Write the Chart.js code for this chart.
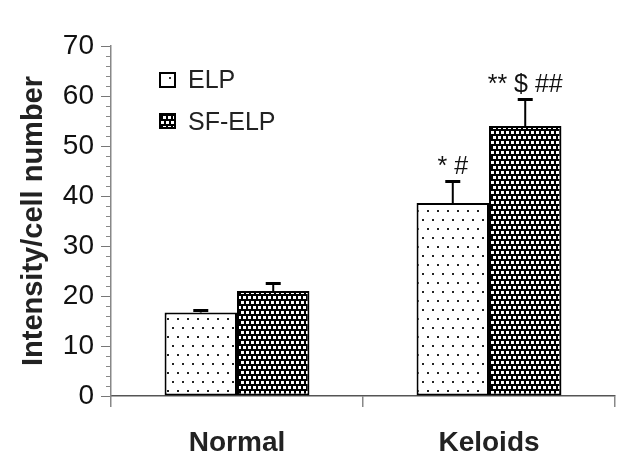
<!DOCTYPE html>
<html><head><meta charset="utf-8">
<script src="https://cdn.jsdelivr.net/npm/chart.js@4"></script>
<style>html,body{margin:0;padding:0;background:#fff}#wrap{width:630px;height:467px}</style>
</head><body><div id="wrap"><canvas id="c" width="630" height="467"></canvas></div>
<script>
const categories = ['Normal', 'Keloids'];
const seriesNames = ['ELP', 'SF-ELP'];
const elpValues = [16.7, 38.6];
const elpErrors = [0.4, 4.3];
const sfElpValues = [21.0, 54.0];
const sfElpErrors = [1.5, 5.3];
const elpMarks = ['', '* #'];
const sfElpMarks = ['', '** $ ##'];
const yTicks = [0, 10, 20, 30, 40, 50, 60, 70];
const yTitle = 'Intensity/cell number';

const FONT = "'Liberation Sans', Arial, sans-serif";

function makePattern(w, h, bg, fg, rects) {
  const t = document.createElement('canvas');
  t.width = w; t.height = h;
  const g = t.getContext('2d');
  g.fillStyle = bg; g.fillRect(0, 0, w, h);
  g.fillStyle = fg;
  rects.forEach(r => g.fillRect(r[0], r[1], r[2], r[3]));
  return document.createElement('canvas').getContext('2d').createPattern(t, 'repeat');
}
const elpPattern = makePattern(10, 18, '#ffffff', '#222222', [[2, 3, 2, 2], [7, 12, 2, 2]]);
const sfPattern = makePattern(10, 10, '#000000', '#ffffff', [[1, 1, 3, 3], [6, 1, 3, 3], [3, 6, 3, 3], [8, 6, 2, 3], [0, 6, 1, 3]]);

const errorPlugin = {
  id: 'errbars',
  afterDatasetsDraw(chart) {
    const ctx = chart.ctx;
    const ys = chart.scales.y;
    const errs = [elpErrors, sfElpErrors];
    const marks = [elpMarks, sfElpMarks];
    chart.data.datasets.forEach((ds, di) => {
      const meta = chart.getDatasetMeta(di);
      meta.data.forEach((bar, i) => {
        const top = ys.getPixelForValue(ds.data[i] + errs[di][i]);
        ctx.save();
        ctx.strokeStyle = '#000';
        ctx.lineWidth = 2;
        ctx.beginPath();
        ctx.moveTo(bar.x, bar.y); ctx.lineTo(bar.x, top); ctx.stroke();
        ctx.lineWidth = 3;
        ctx.beginPath();
        ctx.moveTo(bar.x - 7.5, top); ctx.lineTo(bar.x + 7.5, top); ctx.stroke();
        if (marks[di][i]) {
          ctx.fillStyle = '#111';
          ctx.font = '25px ' + FONT;
          ctx.textAlign = 'center';
          ctx.textBaseline = 'alphabetic';
          ctx.fillText(marks[di][i], bar.x, top - 8);
        }
        ctx.restore();
      });
    });
  }
};

const minorTickPlugin = {
  id: 'minorTicks',
  afterDraw(chart) {
    const ctx = chart.ctx;
    const ys = chart.scales.y;
    const x = chart.chartArea.left;
    ctx.save();
    ctx.strokeStyle = '#888';
    ctx.lineWidth = 1;
    for (let v = yTicks[0]; v <= yTicks[yTicks.length - 1]; v += 2) {
      if (yTicks.includes(v)) continue;
      const y = Math.round(ys.getPixelForValue(v)) + 0.5;
      ctx.beginPath(); ctx.moveTo(x - 5, y); ctx.lineTo(x, y); ctx.stroke();
    }
    ctx.restore();
  }
};

const legendPlugin = {
  id: 'customLegend',
  afterDraw(chart) {
    const ctx = chart.ctx;
    const a = chart.chartArea;
    const bx = a.left + 49, tx = a.left + 77;
    const items = [[elpPattern, a.top + 27, a.top + 42], [sfPattern, a.top + 68, a.top + 84]];
    ctx.save();
    items.forEach((it, i) => {
      const by = it[1];
      ctx.fillStyle = '#fff';
      ctx.fillRect(bx, by, 15, 14);
      if (i === 0) { ctx.fillStyle = '#333'; ctx.fillRect(bx + 9, by + 4, 2, 2); }
      else { ctx.fillStyle = it[0]; ctx.fillRect(bx, by, 15, 14); }
      ctx.strokeStyle = '#000'; ctx.lineWidth = 2;
      ctx.strokeRect(bx, by, 15, 14);
      ctx.fillStyle = '#222';
      ctx.font = '25px ' + FONT;
      ctx.textAlign = 'left';
      ctx.textBaseline = 'alphabetic';
      ctx.fillText(seriesNames[i], tx, it[2]);
    });
    ctx.restore();
  }
};

new Chart(document.getElementById('c'), {
  type: 'bar',
  data: {
    labels: categories,
    datasets: [
      { label: seriesNames[0], data: elpValues, backgroundColor: elpPattern, borderColor: '#000', borderWidth: 2, borderSkipped: false, categoryPercentage: 0.575, barPercentage: 1.0 },
      { label: seriesNames[1], data: sfElpValues, backgroundColor: sfPattern, borderColor: '#000', borderWidth: 2, borderSkipped: false, categoryPercentage: 0.575, barPercentage: 1.0 }
    ]
  },
  options: {
    responsive: false,
    animation: false,
    devicePixelRatio: 1,
    layout: { padding: { top: 46, right: 15, left: 0, bottom: 0 } },
    plugins: { legend: { display: false }, tooltip: { enabled: false } },
    scales: {
      x: {
        offset: true,
        grid: { offset: true, drawOnChartArea: false, drawTicks: true, tickLength: 11, color: '#888', lineWidth: 1.5 },
        border: { color: '#555', width: 1.5 },
        ticks: { font: { family: FONT, size: 28, weight: 'bold' }, color: '#222', padding: 19 },
        afterFit(s) { s.height = 71; }
      },
      y: {
        min: yTicks[0], max: yTicks[yTicks.length - 1],
        afterBuildTicks(s) { s.ticks = yTicks.map(v => ({ value: v })); },
        ticks: { font: { family: FONT, size: 28 }, color: '#111', padding: 7 },
        grid: { drawOnChartArea: false, tickLength: 10, color: '#777' },
        border: { color: '#888', width: 1.5 },
        title: { display: true, text: yTitle, font: { family: FONT, size: 29, weight: 'bold' }, color: '#222', padding: { top: 17, bottom: 0 } },
        afterFit(s) { s.width = 111; }
      }
    }
  },
  plugins: [errorPlugin, minorTickPlugin, legendPlugin]
});
</script>
</body></html>
